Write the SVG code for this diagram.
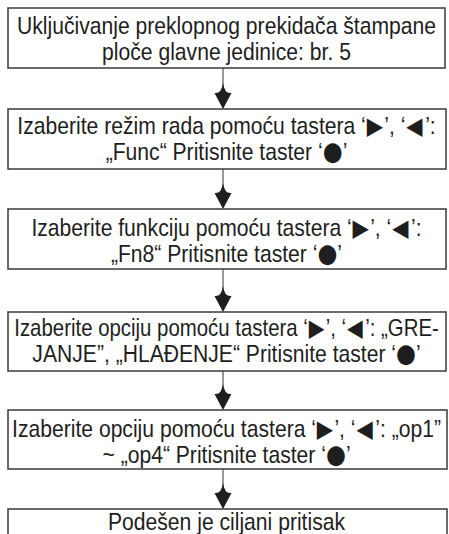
<svg xmlns="http://www.w3.org/2000/svg" width="449" height="534" viewBox="0 0 449 534">
<style>
.box{fill:#fff;stroke:#3a3a3a;stroke-width:1.5}
.t{font-family:"Liberation Sans",Arial,"DejaVu Sans",sans-serif;font-size:24px;fill:#1e1e1e;text-anchor:middle}
.s{font-family:"DejaVu Sans",sans-serif;font-size:24px}
.c{font-family:"DejaVu Sans",sans-serif;font-size:26px}
.ln{stroke:#555;stroke-width:1.2;fill:none}
.ah{fill:#1e1e1e}
</style>
<defs>
<path id="head" d="M0,0 L-8.5,-16 Q-1.5,-15 0,-26 Q1.5,-15 8.5,-16 Z"/>
</defs>
<rect width="449" height="534" fill="#fff"/>
<g id="connectors">
<line class="ln" x1="223" y1="68" x2="223" y2="92"/><use href="#head" class="ah" x="223" y="109"/>
<line class="ln" x1="223" y1="169" x2="223" y2="192"/><use href="#head" class="ah" x="223" y="209"/>
<line class="ln" x1="223" y1="269" x2="223" y2="295"/><use href="#head" class="ah" x="223" y="312"/>
<line class="ln" x1="223" y1="371" x2="223" y2="393"/><use href="#head" class="ah" x="223" y="410"/>
<line class="ln" x1="223" y1="469" x2="223" y2="492"/><use href="#head" class="ah" x="223" y="509"/>
</g>
<g id="n1"><rect class="box" x="8" y="8" width="437" height="60"/>
<g transform="matrix(0.88 0 0 1 27.2 0)"><text class="t" x="226.5" y="34">Uključivanje preklopnog prekidača štampane</text><text class="t" x="226.5" y="60">ploče glavne jedinice: br. 5</text></g></g>
<g id="n2"><rect class="box" x="8" y="109" width="438" height="60"/>
<g transform="matrix(0.88 0 0 1 27.2 0)"><text class="t" x="226.5" y="134">Izaberite režim rada pomoću tastera ‘<tspan class="s" dx="1">▶</tspan><tspan dx="1.5">’, ‘</tspan><tspan class="s" dx="1">◀</tspan><tspan dx="3">’:</tspan></text><text class="t" x="226.5" y="160">„Func“ Pritisnite taster ‘<tspan class="c">●</tspan>’</text></g></g>
<g id="n3"><rect class="box" x="8" y="209" width="438" height="60"/>
<g transform="matrix(0.88 0 0 1 27.2 0)"><text class="t" x="226.5" y="236">Izaberite funkciju pomoću tastera ‘<tspan class="s" dx="1">▶</tspan><tspan dx="1.5">’, ‘</tspan><tspan class="s" dx="1">◀</tspan><tspan dx="3">’:</tspan></text><text class="t" x="226.5" y="262">„Fn8“ Pritisnite taster ‘<tspan class="c">●</tspan>’</text></g></g>
<g id="n4"><rect class="box" x="8" y="312" width="438" height="59"/>
<g transform="matrix(0.85 0 0 1 34 0)"><text class="t" x="226.5" y="336">Izaberite opciju pomoću tastera ‘<tspan class="s" dx="1">▶</tspan><tspan dx="1.5">’, ‘</tspan><tspan class="s" dx="1">◀</tspan><tspan dx="3">’: „GRE-</tspan></text></g>
<g transform="matrix(0.88 0 0 1 27.2 0)"><text class="t" x="226.5" y="362">JANJE”, „HLAĐENJE“ Pritisnite taster ‘<tspan class="c">●</tspan>’</text></g></g>
<g id="n5"><rect class="box" x="8" y="410" width="439" height="59"/>
<g transform="matrix(0.88 0 0 1 27.2 0)"><text class="t" x="226.5" y="437">Izaberite opciju pomoću tastera ‘<tspan class="s" dx="1">▶</tspan><tspan dx="1.5">’, ‘</tspan><tspan class="s" dx="1">◀</tspan><tspan dx="3">’: „op1”</tspan></text><text class="t" x="226.5" y="463">~  „op4“ Pritisnite taster ‘<tspan class="c">●</tspan>’</text></g></g>
<g id="n6"><rect class="box" x="8" y="509" width="439" height="40"/>
<g transform="matrix(0.88 0 0 1 27.2 0)"><text class="t" x="226.5" y="530">Podešen je ciljani pritisak</text></g></g>
</svg>
